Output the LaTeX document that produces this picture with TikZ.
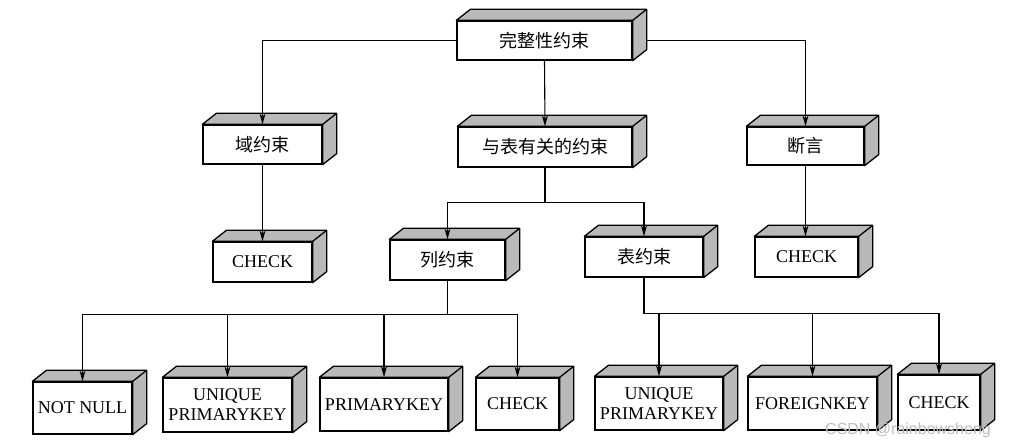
\documentclass[tikz,border=0pt]{standalone}
\usepackage{fontspec}
\setmainfont{Liberation Serif}
\newfontfamily\cjk{Noto Sans CJK SC}
\newfontfamily\wmfont{Liberation Sans}
\usetikzlibrary{arrows.meta,calc}

\begin{document}
\begin{tikzpicture}[x=1pt,y=1pt,
    blok/.style={draw,line width=1.3pt,fill=white,inner sep=0pt,align=center,
        font=\fontsize{18}{20}\selectfont},
    face/.style={draw,line width=1.3pt,line join=round,fill=gray!55},
    arr/.style={line width=1.1pt,-{Stealth[length=11pt,width=6pt]}}]
    \useasboundingbox (0,0) rectangle (1015,447);
    %%first_level
    \node[blok,minimum width=175pt,minimum height=39pt] (root) at (544.5,406.5) {\cjk 完整性约束};
    %%second_level
    \node[blok,minimum width=119pt,minimum height=39pt] (yu) at (262.5,302.5) {\cjk 域约束};
    \node[blok,minimum width=174pt,minimum height=40pt] (biao) at (545,300) {\cjk 与表有关的约束};
    \node[blok,minimum width=117pt,minimum height=38pt] (duan) at (805.5,301) {\cjk 断言};
    %%third_level
    \node[blok,minimum width=99pt,minimum height=40pt] (chka) at (262.5,185) {CHECK};
    \node[blok,minimum width=115pt,minimum height=40pt] (lie) at (447.5,187) {\cjk 列约束};
    \node[blok,minimum width=118pt,minimum height=40pt] (tab) at (644,190) {\cjk 表约束};
    \node[blok,minimum width=103pt,minimum height=40pt] (chkb) at (806.5,190) {CHECK};
    %%fourth_level
    \node[blok,minimum width=99pt,minimum height=52pt] (nn) at (82.5,39) {NOT NULL};
    \node[blok,minimum width=129pt,minimum height=54pt] (upka) at (227.5,42) {UNIQUE\\PRIMARYKEY};
    \node[blok,minimum width=128pt,minimum height=53pt] (pk) at (384,42.5) {PRIMARYKEY};
    \node[blok,minimum width=83pt,minimum height=52pt] (chkc) at (517.5,43) {CHECK};
    \node[blok,minimum width=128pt,minimum height=53pt] (upkb) at (659,43.5) {UNIQUE\\PRIMARYKEY};
    \node[blok,minimum width=129pt,minimum height=53pt] (fk) at (812.5,43.5) {FOREIGNKEY};
    \node[blok,minimum width=82pt,minimum height=55pt] (chkd) at (939,44.5) {CHECK};
    %%top_and_side_faces
    \foreach \n in {root,yu,biao,duan,chka,lie,tab,chkb,nn,upka,pk,chkc,upkb,fk,chkd} {
        \draw[face] (\n.north west) -- ++(14,11) -- ($(\n.north east)+(14,11)$)
            -- ($(\n.south east)+(14,11)$) -- (\n.south east) -- (\n.north east) -- cycle;
        \draw[line width=1.3pt] (\n.north east) -- ++(14,11);
    }
    %%connectors
    \coordinate (rside) at ($(root.east)+(14,0)$);
    \draw[arr] (root.west) -| (yu.north);
    \draw[arr] (rside) -| (duan.north);
    \draw[arr] (root.south) -- (biao.north);
    \draw[arr] (yu.south) -- (chka.north);
    \draw[arr] (duan.south) -- (duan.south |- chkb.north);
    \coordinate (mb) at ($(biao.south)+(0,-35)$);
    \draw[line width=1.1pt] (biao.south) -- (mb);
    \draw[arr] (mb) -| (lie.north);
    \draw[arr] (mb) -| (tab.north);
    \coordinate (ml) at ($(lie.south)+(0,-34)$);
    \draw[line width=1.1pt] (lie.south) -- (ml);
    \foreach \n in {nn,upka,pk,chkc} \draw[arr] (ml) -| (\n.north);
    \coordinate (mt) at ($(tab.south)+(0,-36)$);
    \draw[line width=1.1pt] (tab.south) -- (mt);
    \foreach \n in {upkb,fk,chkd} \draw[arr] (mt) -| (\n.north);
    %%watermark
    \node[anchor=base west,inner sep=0pt,text=gray!50,font=\wmfont\fontsize{16}{16}\selectfont] (wm) at (825,12) {CSDN @rainbowsheng};
\end{tikzpicture}
\end{document}
